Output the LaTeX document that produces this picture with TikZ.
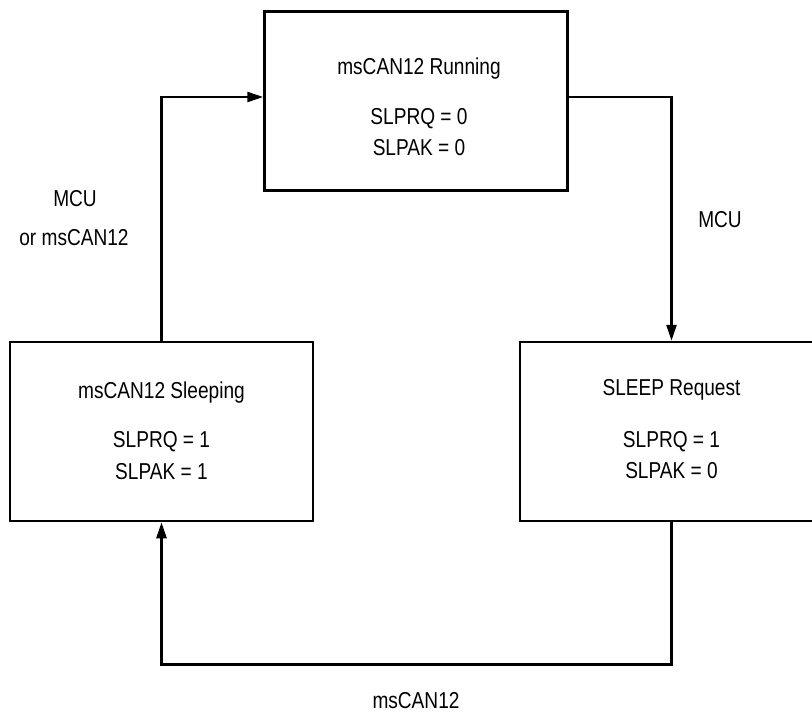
\documentclass[tikz,border=0pt]{standalone}
\usepackage{fontspec}
\setmainfont[FakeStretch=0.83]{Liberation Sans}
\usetikzlibrary{arrows.meta}
\begin{document}
\begin{tikzpicture}[x=1pt,y=-1pt,
  statebox/.style={draw, line width=2.5pt, minimum width=303pt, minimum height=179pt, inner sep=0pt},
  txt/.style={inner sep=0pt, anchor=base, font=\fontsize{23}{28}\selectfont},
  arr/.style={line width=2.5pt, -{Triangle[length=16pt,width=10pt]}},
  plain/.style={line width=2.5pt}]
\clip (0,0) rectangle (812,712);
% states
\node[statebox] (run) at (416,101) {};
\node[statebox] (sleeping) at (161.5,431.5) {};
\node[statebox] (sleepreq) at (671.5,431.5) {};
% texts in boxes
\node[txt] (t1) at (419,74) {msCAN12 Running};
\node[txt] (t2) at (419,124) {SLPRQ = 0};
\node[txt] (t3) at (419,155) {SLPAK = 0};
\node[txt] (t4) at (161.5,398) {msCAN12 Sleeping};
\node[txt] (t5) at (161.5,447) {SLPRQ = 1};
\node[txt] (t6) at (161.5,479) {SLPAK = 1};
\node[txt] (t7) at (671.5,395) {SLEEP Request};
\node[txt] (t8) at (671.5,447) {SLPRQ = 1};
\node[txt] (t9) at (671.5,478) {SLPAK = 0};
% connectors
\draw[arr] (sleeping.north) |- ([yshift=4pt]run.west);
\draw[arr] ([yshift=4pt]run.east) -| (sleepreq.north);
\draw[arr] (sleepreq.south) -- ++(0,142) -| (sleeping.south);
% labels
\node[txt] (l1) at (75,206) {MCU};
\node[txt] (l2) at (74,245) {or msCAN12};
\node[txt] (l3) at (720,227) {MCU};
\node[txt] (l4) at (416,708) {msCAN12};
\end{tikzpicture}
\end{document}
